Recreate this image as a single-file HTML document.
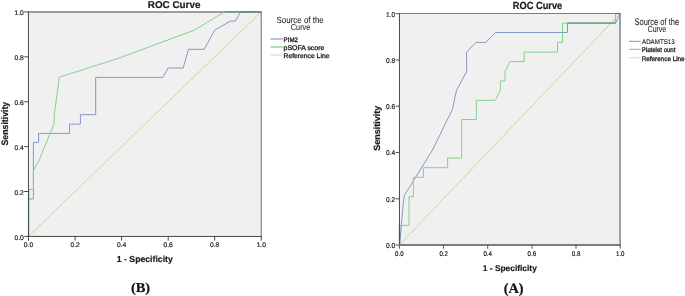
<!DOCTYPE html>
<html>
<head>
<meta charset="utf-8">
<title>ROC Curve</title>
<style>
html,body{margin:0;padding:0;background:#fff;}
body{width:685px;height:296px;overflow:hidden;}
svg{display:block;}
text{font-family:"Liberation Sans",Arial,sans-serif;fill:#1a1a1a;stroke:#1a1a1a;stroke-width:0.2px;text-rendering:geometricPrecision;}
.b{font-weight:bold;}
.serif{font-family:"Liberation Serif","Times New Roman",serif;font-weight:bold;fill:#111;}
.lt{fill:#2a2a2a;stroke:#2a2a2a;stroke-width:0.08px;}
.tk{font-size:6.7px;fill:#2e2e2e;stroke:#2e2e2e;}
.tk2{font-size:6.3px;fill:#3c3c3c;stroke:#3c3c3c;stroke-width:0.05px;}
</style>
</head>
<body>
<svg width="685" height="296" viewBox="0 0 685 296">
<rect x="0" y="0" width="685" height="296" fill="#ffffff"/>

<!-- ================= LEFT CHART (B) ================= -->
<g id="chartB">
<rect x="28.5" y="11.8" width="232.8" height="224.5" fill="#f0f0f0"/>
<!-- reference line -->
<line x1="28.5" y1="236.3" x2="261.3" y2="11.8" stroke="#dedab0" stroke-width="1.1"/>
<!-- top/right frame -->
<path d="M28.5 11.95 H261.3" fill="none" stroke="#808080" stroke-width="1.35"/>
<path d="M261.2 11.3 V236.3" fill="none" stroke="#727272" stroke-width="1"/>
<!-- blue PIM2 -->
<path d="M28.5 236.3 V198.9 H33.4 V142.4 H38.6 V133.4 H69.6 V124.1 H80.4 V114.7 H95.7 V77.4 H162.8 L168.2 68 H183.2 L188.5 49.3 H204.2 L214.5 30.4 L230.3 21.1 H235.4 L240.5 11.8 H261.3" fill="none" stroke="#8796c8" stroke-width="1" stroke-linejoin="miter"/>
<!-- green pSOFA -->
<path d="M28.5 236.3 V189.4 H33.4 V170.4 L38.6 161.5 L54.05 124 L54.3 114.7 L59.4 77.2 L117.5 58.6 L194 30.3 L224.6 11.8 H261.3" fill="none" stroke="#82d28c" stroke-width="1" stroke-linejoin="miter"/>
<!-- axes -->
<path d="M224.8 11.75 H240.5" fill="none" stroke="#5e9070" stroke-width="1.05"/>
<path d="M240.3 11.9 H261.3" fill="none" stroke="#52806b" stroke-width="1.35"/>
<path d="M28.45 11.3 V236.45 H261.8" fill="none" stroke="#484848" stroke-width="1"/>
<path d="M28.8 190 V236" fill="none" stroke="#2f6b40" stroke-width="0.7" opacity="0.75"/>
<!-- y ticks -->
<g stroke="#3a3a3a" stroke-width="0.95">
<line x1="24.2" x2="28.5" y1="11.9" y2="11.9"/>
<line x1="24.2" x2="28.5" y1="56.85" y2="56.85"/>
<line x1="24.2" x2="28.5" y1="101.75" y2="101.75"/>
<line x1="24.2" x2="28.5" y1="146.6" y2="146.6"/>
<line x1="24.2" x2="28.5" y1="191.5" y2="191.5"/>
<line x1="24.2" x2="28.5" y1="236.4" y2="236.4"/>
<line y1="236.3" y2="240.6" x1="28.5" x2="28.5"/>
<line y1="236.3" y2="240.6" x1="75.1" x2="75.1"/>
<line y1="236.3" y2="240.6" x1="121.6" x2="121.6"/>
<line y1="236.3" y2="240.6" x1="168.2" x2="168.2"/>
<line y1="236.3" y2="240.6" x1="214.7" x2="214.7"/>
<line y1="236.3" y2="240.6" x1="261.3" x2="261.3"/>
</g>
<g class="tk" text-anchor="end">
<text x="23.8" y="15.4">1.0</text>
<text x="23.8" y="60.1">0.8</text>
<text x="23.8" y="105">0.6</text>
<text x="23.8" y="149.9">0.4</text>
<text x="23.8" y="194.8">0.2</text>
<text x="23.8" y="239.7">0.0</text>
</g>
<g class="tk" text-anchor="middle">
<text x="28.5" y="246.9">0.0</text>
<text x="75.1" y="246.9">0.2</text>
<text x="121.6" y="246.9">0.4</text>
<text x="168.2" y="246.9">0.6</text>
<text x="214.7" y="246.9">0.8</text>
<text x="261.3" y="246.9">1.0</text>
</g>
<text class="b" x="147.8" y="7.7" font-size="10" textLength="52.6" lengthAdjust="spacingAndGlyphs">ROC Curve</text>
<text class="b" x="144.8" y="261.7" font-size="8.7" text-anchor="middle">1 - Specificity</text>
<text class="b" transform="translate(7.6 145.5) rotate(-90)" font-size="9.3" textLength="43.7" lengthAdjust="spacingAndGlyphs">Sensitivity</text>
<!-- legend -->
<text class="lt" x="276.5" y="22.5" font-size="8.9" textLength="47.3" lengthAdjust="spacingAndGlyphs">Source of the</text>
<text class="lt" x="290.8" y="29.8" font-size="8.6" textLength="19.5" lengthAdjust="spacingAndGlyphs">Curve</text>
<line x1="270.6" x2="282.9" y1="39" y2="39" stroke="#9ba9d4" stroke-width="1.4"/>
<line x1="270.6" x2="282.9" y1="47" y2="47" stroke="#86d79a" stroke-width="1.4"/>
<line x1="270.6" x2="282.9" y1="55" y2="55" stroke="#e6e3c6" stroke-width="1.4"/>
<text x="283.6" y="41.7" font-size="6.7" textLength="14.3" lengthAdjust="spacingAndGlyphs" style="stroke-width:0.3px">PIM2</text>
<text x="283.6" y="49.5" font-size="6.7" textLength="40.7" lengthAdjust="spacingAndGlyphs" style="stroke-width:0.3px">pSOFA score</text>
<text x="283.6" y="57.5" font-size="6.7" textLength="45.8" lengthAdjust="spacingAndGlyphs" style="stroke-width:0.3px">Reference Line</text>
<text class="serif" x="130.9" y="292.1" font-size="13.7" textLength="19.3" lengthAdjust="spacingAndGlyphs">(B)</text>
</g>

<!-- ================= RIGHT CHART (A) ================= -->
<g id="chartA">
<rect x="399.4" y="13.5" width="220.8" height="231.3" fill="#f0f0f0"/>
<line x1="399.4" y1="244.8" x2="620.2" y2="13.5" stroke="#dedab0" stroke-width="1.1"/>
<path d="M399.4 13.5 H621" fill="none" stroke="#7d7d7d" stroke-width="1"/>
<path d="M620.05 13 V245" fill="none" stroke="#9a9a9a" stroke-width="1.9"/>
<!-- blue ADAMTS13 -->
<path d="M399.4 244.8 L400.2 239 L403.4 201.5 L404.4 195.4 L413.9 180 L423.2 165 L429.4 155 L432.5 150 L439.9 135 L444.6 125 L452.5 109.3 L455.4 95 L456.9 89.5 L466.6 71.6 V52.1 L475.9 42.4 H485.7 L495.6 32.5 H567.5 V23.2 H615.5 L620.2 13.5" fill="none" stroke="#8796c8" stroke-width="1" stroke-linejoin="miter"/>
<!-- green platelet -->
<path d="M399.4 244.8 V225.4 H409 V196.6 H413.4 V177.3 H423.4 V167.7 H447.6 V158.1 H461.7 V119.5 H476.3 V100.3 H495.3 L500.3 90.5 V81 H505 V71.5 L509.9 61.6 H524.2 V52.1 H557.5 V42.4 H562.5 V23.2 H615.5 V13.5 H620.2" fill="none" stroke="#82d28c" stroke-width="1" stroke-linejoin="miter"/>
<path d="M567.3 23.2 H615.5" fill="none" stroke="#58a87c" stroke-width="1.25"/>
<path d="M615.5 13.5 H620.2" fill="none" stroke="#4d7a63" stroke-width="1.2"/>
<path d="M399.45 13 V245" fill="none" stroke="#484848" stroke-width="1"/>
<path d="M399 245 H620.7" fill="none" stroke="#7d7d7d" stroke-width="2"/>
<path d="M399.8 226 V244" fill="none" stroke="#2f6b40" stroke-width="0.7" opacity="0.75"/>
<g stroke="#4c4c4c" stroke-width="0.95">
<line x1="395.5" x2="399.4" y1="13.6" y2="13.6"/>
<line x1="395.5" x2="399.4" y1="60.0" y2="60.0"/>
<line x1="395.5" x2="399.4" y1="106.2" y2="106.2"/>
<line x1="395.5" x2="399.4" y1="152.5" y2="152.5"/>
<line x1="395.5" x2="399.4" y1="198.8" y2="198.8"/>
<line x1="395.5" x2="399.4" y1="245.0" y2="245.0"/>
<line y1="245" y2="248.7" x1="399.4" x2="399.4"/>
<line y1="245" y2="248.7" x1="443.6" x2="443.6"/>
<line y1="245" y2="248.7" x1="487.7" x2="487.7"/>
<line y1="245" y2="248.7" x1="531.9" x2="531.9"/>
<line y1="245" y2="248.7" x1="576" x2="576"/>
<line y1="245" y2="248.7" x1="620.2" x2="620.2"/>
</g>
<g class="tk2" text-anchor="end">
<text x="386" y="17.0" font-size="7" textLength="9.1" lengthAdjust="spacingAndGlyphs" text-anchor="start">1.0</text>
<text x="386" y="62.8" font-size="7" textLength="9.1" lengthAdjust="spacingAndGlyphs" text-anchor="start">0.8</text>
<text x="386" y="109.0" font-size="7" textLength="9.1" lengthAdjust="spacingAndGlyphs" text-anchor="start">0.6</text>
<text x="386" y="155.3" font-size="7" textLength="9.1" lengthAdjust="spacingAndGlyphs" text-anchor="start">0.4</text>
<text x="386" y="201.6" font-size="7" textLength="9.1" lengthAdjust="spacingAndGlyphs" text-anchor="start">0.2</text>
<text x="386" y="247.8" font-size="7" textLength="9.1" lengthAdjust="spacingAndGlyphs" text-anchor="start">0.0</text>
</g>
<g class="tk2" text-anchor="middle">
<text x="395.1" y="255.8" font-size="6.9" textLength="8.5" lengthAdjust="spacingAndGlyphs" text-anchor="start">0.0</text>
<text x="439.4" y="255.8" font-size="6.9" textLength="8.5" lengthAdjust="spacingAndGlyphs" text-anchor="start">0.2</text>
<text x="483.4" y="255.8" font-size="6.9" textLength="8.5" lengthAdjust="spacingAndGlyphs" text-anchor="start">0.4</text>
<text x="527.6" y="255.8" font-size="6.9" textLength="8.5" lengthAdjust="spacingAndGlyphs" text-anchor="start">0.6</text>
<text x="571.8" y="255.8" font-size="6.9" textLength="8.5" lengthAdjust="spacingAndGlyphs" text-anchor="start">0.8</text>
<text x="616.0" y="255.8" font-size="6.9" textLength="8.5" lengthAdjust="spacingAndGlyphs" text-anchor="start">1.0</text>
</g>
<text class="b" x="512.7" y="8.8" font-size="10.3" textLength="49.6" lengthAdjust="spacingAndGlyphs">ROC Curve</text>
<text class="b" x="509.8" y="271.2" font-size="8.4" text-anchor="middle">1 - Specificity</text>
<text class="b" transform="translate(379.9 128.3) rotate(-90)" font-size="9" text-anchor="middle">Sensitivity</text>
<text class="lt" x="634.5" y="24.7" font-size="9.6" textLength="44.6" lengthAdjust="spacingAndGlyphs">Source of the</text>
<text class="lt" x="647.7" y="32.3" font-size="8.8" textLength="18.5" lengthAdjust="spacingAndGlyphs">Curve</text>
<line x1="629" x2="640.7" y1="41.4" y2="41.4" stroke="#9ba9d4" stroke-width="1.3"/>
<line x1="629" x2="640.7" y1="49.4" y2="49.4" stroke="#86d79a" stroke-width="1.3"/>
<line x1="629" x2="640.7" y1="57.7" y2="57.7" stroke="#e6e3c6" stroke-width="1.3"/>
<text x="642" y="44.2" font-size="6.7" style="stroke-width:0.1px" textLength="32.7" lengthAdjust="spacingAndGlyphs">ADAMTS13</text>
<text x="641.8" y="52" font-size="6.6" textLength="33.6" lengthAdjust="spacingAndGlyphs" style="stroke-width:0.3px">Platelet ount</text>
<text x="641.8" y="60.8" font-size="6.6" textLength="42.8" lengthAdjust="spacingAndGlyphs" style="stroke-width:0.3px">Reference Line</text>
<text class="serif" x="513.6" y="292.6" font-size="14.3" text-anchor="middle">(A)</text>
</g>
</svg>
</body>
</html>
